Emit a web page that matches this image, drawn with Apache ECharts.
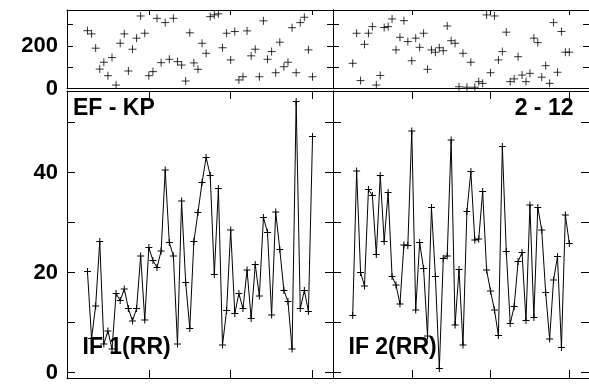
<!DOCTYPE html>
<html><head><meta charset="utf-8">
<script src="https://cdn.jsdelivr.net/npm/echarts@6/dist/echarts.min.js"></script>
<style>html,body{margin:0;padding:0;background:#fff;overflow:hidden}#c{width:589px;height:386px}</style>
</head><body><div id="c"></div>
<script>
// observation index of the first point in each panel
const firstIndex = 5;
// top panels (0..360 scale)
const phaseLeft = [272,257,190,92,124,61,146,17,213,257,
  83,185,237,341,260,61,80,330,122,310,
  138,330,127,111,36,262,121,91,213,166,
  338,346,351,192,260,135,268,41,56,271,
  154,185,56,318,138,174,75,218,103,124,
  286,75,310,335,182,56];
const phaseRight = [119,260,38,208,260,291,17,62,287,291,
  327,182,241,319,221,131,237,194,260,91,
  182,171,192,178,294,225,213,9,166,7,
  124,7,33,25,346,75,341,135,174,265,
  33,46,150,64,33,72,237,216,54,108,
  25,310,77,268,171,171];
// bottom panels
const if1 = [20.2,6.8,13.3,26.2,5.7,8.3,4.7,15.8,14.4,16.7,
  12.8,10.3,12.8,23.3,10.5,25.0,22.4,21.0,24.3,40.5,
  26.0,23.3,5.7,34.3,18.0,8.8,26.2,32.0,38.0,43.0,
  39.4,19.6,36.8,5.5,12.4,28.5,11.8,15.8,12.8,20.5,
  10.8,21.6,15.3,31.0,28.0,11.5,32.1,24.6,16.4,14.2,
  4.7,54.2,12.8,16.4,12.2,47.2];
const if2 = [11.4,40.3,20.0,17.3,36.6,35.4,23.6,39.4,26.2,36.0,
  19.2,17.5,13.7,25.5,25.4,48.3,12.5,26.0,20.8,7.3,
  33.0,19.2,0.8,22.8,23.3,46.5,9.5,20.6,5.5,32.2,
  40.2,26.5,26.7,36.2,20.5,16.3,12.5,7.4,45.2,24.2,
  9.8,13.2,22.2,24.0,10.4,33.5,11.0,33.0,28.5,16.0,
  6.7,18.5,23.2,5.0,31.5,25.8];
const xTicks = [20,40,60];
const topTicks = [0,100,200,300];
const topLabels = [0,200];
const bottomTicks = [0,10,20,30,40,50];
const bottomLabels = [0,20,40];
const panelTitles = ['EF - KP','2 - 12'];
const seriesLabels = ['IF 1(RR)','IF 2(RR)'];

const pairs = arr => arr.map((v,k)=>[firstIndex+k, v]);
const FONT = '"Liberation Sans", Arial, Helvetica, sans-serif';
const plus = 'path://M5,0L5,10M0,5L10,5';

const grids = [
  {left:67, top:10, width:266, height:78.7},
  {left:333, top:10, width:266, height:78.7},
  {left:67, top:91, width:266, height:287},
  {left:333, top:91, width:266, height:287}
];
const xAxes = [], yAxes = [];
grids.forEach((g,i)=>{
  const isTop = i<2;
  const tl = isTop ? 5 : 8;
  ['bottom','top'].forEach(pos=>{
    xAxes.push({type:'value', gridIndex:i, position:pos, min:0, max:65,
      axisLine:{show:true, onZero:false, lineStyle:{color:'#000', width:1}},
      axisTick:{show:!(isTop && pos==='bottom'), inside:true, length:tl, customValues:xTicks, lineStyle:{color:'#000'}},
      axisLabel:{show:false}, splitLine:{show:false}});
  });
  ['left','right'].forEach(pos=>{
    const showLab = (pos==='left' && (i===0 || i===2));
    yAxes.push({type:'value', gridIndex:i, position:pos,
      min: isTop ? 0 : -1.1, max: isTop ? 369 : 56.3,
      axisLine:{show:true, onZero:false, lineStyle:{color:'#000', width:1}},
      axisTick:{show:true, inside:true, length: isTop?6:8, customValues: isTop?topTicks:bottomTicks, lineStyle:{color:'#000'}},
      axisLabel:{show:showLab, customValues: isTop?topLabels:bottomLabels, margin:9,
        color:'#000', fontWeight:'bold', fontSize:22, fontFamily:FONT},
      splitLine:{show:false}});
  });
});

const series = [
  {type:'scatter', xAxisIndex:0, yAxisIndex:0, data:pairs(phaseLeft), symbol:plus, symbolSize:8,
    itemStyle:{color:'#000', borderColor:'#000', borderWidth:1}},
  {type:'scatter', xAxisIndex:2, yAxisIndex:2, data:pairs(phaseRight), symbol:plus, symbolSize:8,
    itemStyle:{color:'#000', borderColor:'#000', borderWidth:1}},
  {type:'line', xAxisIndex:4, yAxisIndex:4, data:pairs(if1), symbol:plus, symbolSize:7, showAllSymbol:true,
    lineStyle:{color:'#000', width:1}, itemStyle:{color:'#000', borderColor:'#000', borderWidth:1}},
  {type:'line', xAxisIndex:6, yAxisIndex:6, data:pairs(if2), symbol:plus, symbolSize:7, showAllSymbol:true,
    lineStyle:{color:'#000', width:1}, itemStyle:{color:'#000', borderColor:'#000', borderWidth:1}}
];

const txt = (t,x,y,align)=>({type:'text', z:100, style:{text:t, x:x, y:y, align:align, verticalAlign:'middle',
  font:'bold 23px '+FONT, fill:'#000'}});

const chart = echarts.init(document.getElementById('c'), null, {renderer:'canvas'});
chart.setOption({
  animation:false,
  backgroundColor:'#fff',
  grid:grids, xAxis:xAxes, yAxis:yAxes, series:series,
  graphic:[
    txt(panelTitles[0], 73, 109, 'left'),
    txt(panelTitles[1], 573.5, 109, 'right'),
    txt(seriesLabels[0], 82.5, 348, 'left'),
    txt(seriesLabels[1], 348.5, 348, 'left')
  ]
});
</script></body></html>
